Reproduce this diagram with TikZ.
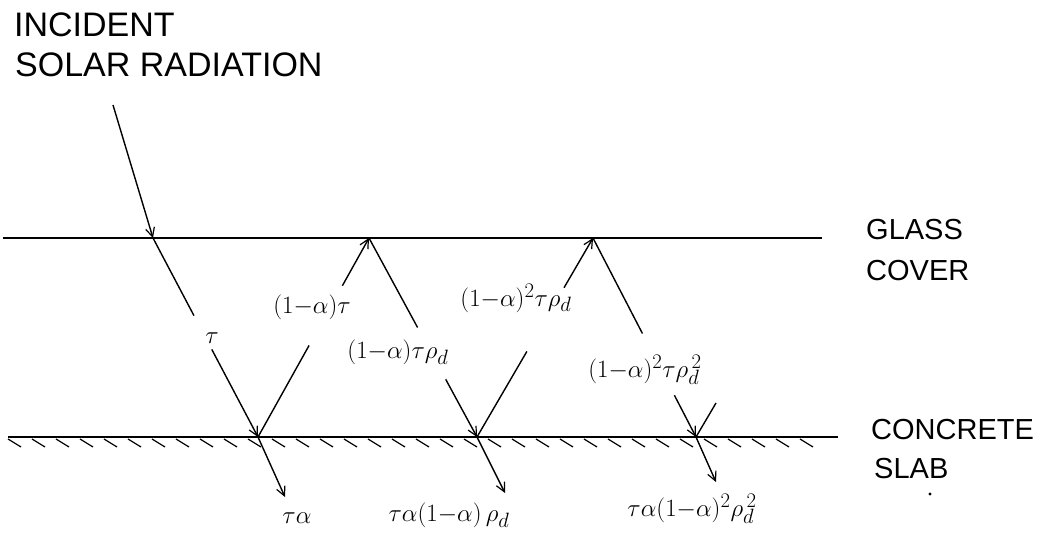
\documentclass[tikz,border=0pt]{standalone}
\usepackage{fontspec}
\setmainfont{Liberation Sans}
\usetikzlibrary{arrows.meta,calc}
\begin{document}
\begin{tikzpicture}[x=1pt,y=-1pt,
  ray/.style={line width=1.4pt},
  arr/.style={ray,-{Straight Barb[length=9pt,width=9pt,line width=1.2pt]}},
  caps/.style={font=\fontsize{34}{38}\selectfont, anchor=base west, inner sep=0pt},
  capsr/.style={font=\fontsize{29}{34}\selectfont, anchor=base west, inner sep=0pt},
  lab/.style={font=\fontsize{29}{34}\selectfont, inner sep=0pt},
  surf/.style={line width=1.8pt},
  hatch/.style={line width=1.2pt}]
\useasboundingbox (0,0) rectangle (1041,540);
\fill[white] (0,0) rectangle (1041,540);

% texts
\node[caps] (inc) at (14,37) {INCIDENT};
\node[caps] (sol) at (15,77) {SOLAR RADIATION};
\node[capsr] (gla) at (866,240) {GLASS};
\node[capsr] (cov) at (866,280) {COVER};
\node[capsr] (con) at (871,439) {CONCRETE};
\node[capsr] (sla) at (874,478) {SLAB};

% surfaces
\coordinate (gL) at (3,238);
\coordinate (gR) at (822,238);
\coordinate (sL) at (8,437);
\coordinate (sR) at (838,437);
\draw[surf] (gL) -- (gR);
\draw[surf] (sL) -- (sR);
\foreach \x in {8,32,...,820} \draw[hatch] (\x,439) -- ++(13,8);

% ray points
\coordinate (src) at (113,105);
\coordinate (g1) at (153,238);
\coordinate (c1) at (258,437);
\coordinate (g2) at (369,238);
\coordinate (c2) at (477,437);
\coordinate (g3) at (593,238);
\coordinate (c3) at (696,437);
\coordinate (e3) at (716,403);
\coordinate (t1) at (285,497);
\coordinate (t2) at (505,493);
\coordinate (t3) at (716,482);

% incident
\draw[arr] (src) -- (g1);
% g1 -> c1
\draw[ray] (g1) -- ($(g1)!0.39!(c1)$);
\draw[arr] ($(g1)!0.56!(c1)$) -- (c1);
% c1 -> g2
\draw[ray] (c1) -- ($(c1)!0.46!(g2)$);
\draw[arr] ($(c1)!0.76!(g2)$) -- (g2);
% g2 -> c2
\draw[ray] (g2) -- ($(g2)!0.45!(c2)$);
\draw[arr] ($(g2)!0.71!(c2)$) -- (c2);
% c2 -> g3
\draw[ray] (c2) -- ($(c2)!0.43!(g3)$);
\draw[arr] ($(c2)!0.75!(g3)$) -- (g3);
% g3 -> c3
\draw[ray] (g3) -- ($(g3)!0.48!(c3)$);
\draw[arr] ($(g3)!0.79!(c3)$) -- (c3);
% c3 -> up (short)
\draw[ray] (c3) -- (e3);
% transmitted into slab
\draw[arr] (c1) -- (t1);
\draw[arr] (c2) -- (t2);
\draw[arr] (c3) -- (t3);

% labels
\node[lab] (l1) at (212,338) {$\tau$};
\node[lab] (l2) at (312,307) {$(1{-}\alpha)\tau$};
\node[lab] (l3) at (398,352) {$(1{-}\alpha)\tau\rho_d$};
\node[lab] (l4) at (516,298) {$(1{-}\alpha)^2\tau\rho_d$};
\node[lab] (l5) at (645,370) {$(1{-}\alpha)^2\tau\rho_d^{\,2}$};
\node[lab] (b1) at (297,518) {$\tau\alpha$};
\node[lab] (b2) at (449,515) {$\tau\alpha(1{-}\alpha)\,\rho_d$};
\node[lab] (b3) at (692,509) {$\tau\alpha(1{-}\alpha)^2\rho_d^{\,2}$};

% speck
\fill (930,494) circle (1.6);
\end{tikzpicture}
\end{document}
